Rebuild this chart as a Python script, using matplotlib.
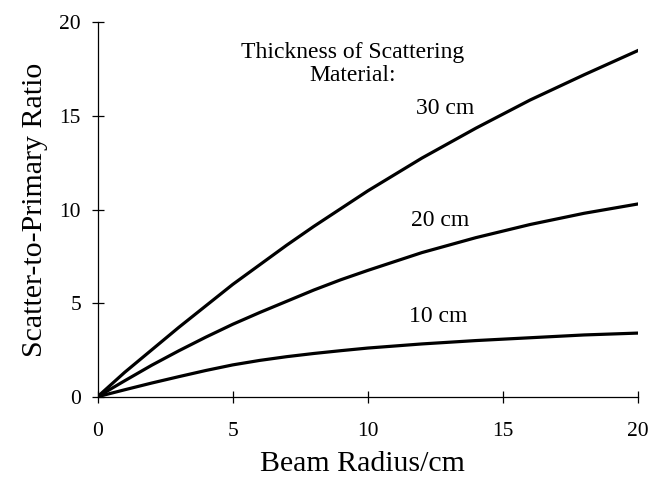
import numpy as np
import matplotlib
matplotlib.use("Agg")
import matplotlib.pyplot as plt

plt.rcParams['font.family'] = ['Liberation Serif', 'DejaVu Serif']

# beam radius (cm) and scatter-to-primary ratio for each thickness
radius = [0, 1, 2, 3, 4, 5, 6, 7, 8, 9, 10, 12, 14, 16, 18, 20]
spr_30cm = [0, 1.3, 2.5, 3.7, 4.85, 6.0, 7.05, 8.1, 9.1, 10.05, 11.0,
            12.75, 14.35, 15.85, 17.2, 18.5]
spr_20cm = [0, 0.85, 1.68, 2.45, 3.18, 3.87, 4.5, 5.1, 5.7, 6.25, 6.75,
            7.7, 8.5, 9.2, 9.8, 10.3]
spr_10cm = [0, 0.37, 0.73, 1.07, 1.4, 1.7, 1.94, 2.14, 2.31, 2.46, 2.6,
            2.82, 3.0, 3.15, 3.3, 3.4]

fig = plt.figure(figsize=(6.64, 4.87), dpi=100)
ax = fig.add_axes([0.147, 0.1854, 0.814, 0.7686])

for s in (spr_30cm, spr_20cm, spr_10cm):
    ax.plot(radius, s, color='black', lw=2.3, solid_joinstyle='round')

ax.set_xlim(0, 20)
ax.set_ylim(0, 20)
ax.set_xticks([0, 5, 10, 15, 20])
ax.set_yticks([0, 5, 10, 15, 20])
ax.spines['top'].set_visible(False)
ax.spines['right'].set_visible(False)
for sp in ('left', 'bottom'):
    ax.spines[sp].set_linewidth(0.9)
ax.tick_params(axis='both', direction='inout', length=8, width=0.9, labelsize=15.5)
ax.tick_params(axis='x', pad=14)
ax.tick_params(axis='y', pad=8)

ax.set_xlabel('Beam Radius/cm', fontsize=21.5, labelpad=6)
ax.xaxis.set_label_coords(0.49, -0.145)
ax.set_ylabel('Scatter-to-Primary Ratio', fontsize=21.5, labelpad=8)

ax.text(9.42, 17.77, 'Thickness of Scattering\nMaterial:', ha='center', va='center',
        fontsize=17, linespacing=1.15)
ax.text(12.86, 15.42, '30 cm', ha='center', va='center', fontsize=17)
ax.text(12.68, 9.44, '20 cm', ha='center', va='center', fontsize=17)
ax.text(12.6, 4.27, '10 cm', ha='center', va='center', fontsize=17)

fig.savefig('out.png', dpi=100)
